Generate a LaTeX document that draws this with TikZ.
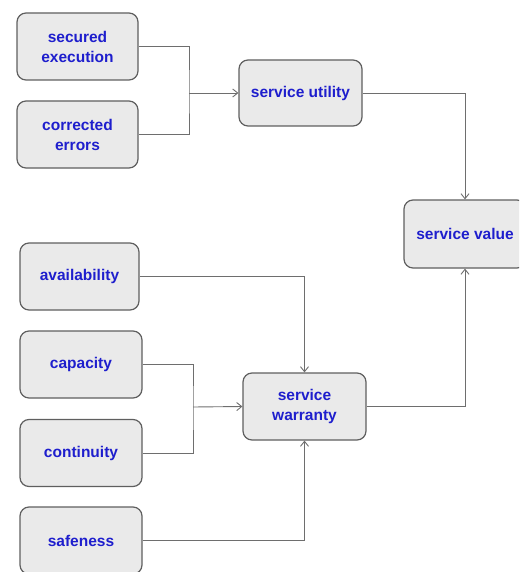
\documentclass[tikz,border=0pt]{standalone}
\usepackage{fontspec}
\setmainfont{Liberation Sans}
\usetikzlibrary{arrows.meta}
\definecolor{boxfill}{RGB}{234,234,234}
\definecolor{boxline}{RGB}{95,95,95}
\definecolor{wire}{RGB}{110,110,110}
\definecolor{labelblue}{RGB}{30,30,205}
\tikzset{
  factor/.style={draw=boxline,line width=1.2pt,fill=boxfill,rounded corners=9pt,
    minimum width=121pt,minimum height=67pt,align=center,inner sep=2pt,
    font=\fontsize{15.5}{20}\selectfont\bfseries,text=labelblue},
  wire/.style={draw=wire,line width=0.9pt},
  tip/.style={wire,-{Straight Barb[length=5pt,width=8pt]}}
}
\begin{document}
\begin{tikzpicture}[x=1pt,y=-1pt]
\useasboundingbox (0,0) rectangle (519,572);
\begin{scope}
\clip (0,0) rectangle (519,572);
% inputs of the utility side
\node[factor] (secured) at (77.5,46.5) {secured\\execution};
\node[factor] (corrected) at (77.5,134.5) {corrected\\errors};
\node[factor,minimum width=123pt,minimum height=66pt] (utility) at (300.5,93) {service utility};
% inputs of the warranty side
\node[factor,minimum width=119pt] (avail) at (79.5,276.5) {availability};
\node[factor,minimum width=122pt] (capacity) at (81,364.5) {capacity};
\node[factor,minimum width=122pt] (continuity) at (81,453) {continuity};
\node[factor,minimum width=122pt] (safeness) at (81,540.5) {safeness};
\node[factor,minimum width=123pt] (warranty) at (304.5,406.5) {service\\warranty};
% result
\node[factor,minimum width=122pt,minimum height=68pt] (value) at (465,234) {service value};
\end{scope}

\coordinate (join1) at (189,93);
\coordinate (join2) at (193,407);

\draw[wire] (secured.east) -| (join1) |- (corrected.east);
\draw[tip] (join1) -- (utility.west);
\draw[tip] (utility.east) -| (value.north);

\draw[tip] (avail.east) -| (warranty.north);
\draw[wire] (capacity.east) -| (join2) |- (continuity.east);
\draw[tip] (join2) -- (warranty.west);
\draw[tip] (safeness.east) -| (warranty.south);
\draw[tip] (warranty.east) -| (value.south);
\end{tikzpicture}
\end{document}
